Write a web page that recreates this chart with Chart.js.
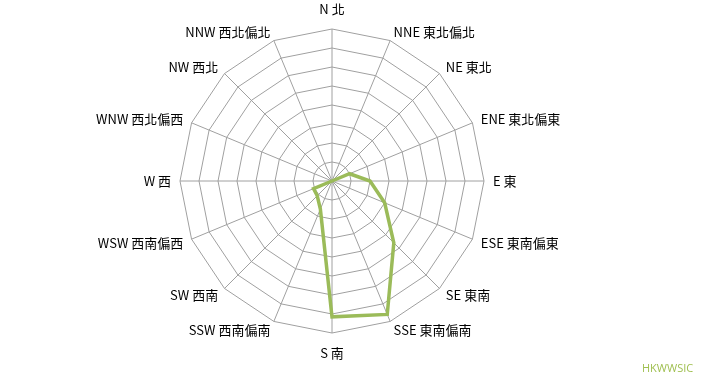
<!DOCTYPE html>
<html>
<head>
<meta charset="utf-8">
<script src="https://cdn.jsdelivr.net/npm/chart.js@4"></script>
<style>
  body { margin: 0; background: #fff; }
  #wrap { position: relative; width: 704px; height: 385px; }
  #mark { position: absolute; left: 642px; top: 360px; font: 11px 'Open Sans', sans-serif; color: #9fbf4f; }
</style>
</head>
<body>
<div id="wrap">
  <canvas id="chart1" width="704" height="385"></canvas>
  <div id="mark">HKWWSIC</div>
</div>
<script>
var directions = ['N 北', 'NNE 東北偏北', 'NE 東北', 'ENE 東北偏東', 'E 東', 'ESE 東南偏東', 'SE 東南', 'SSE 東南偏南',
                  'S 南', 'SSW 西南偏南', 'SW 西南', 'WSW 西南偏西', 'W 西', 'WNW 西北偏西', 'NW 西北', 'NNW 西北偏北'];
var values = [0, 0, 0, 1.0, 2.0, 3.0, 4.6, 7.6, 7.15, 1.6, 1.1, 1.05, 0, 0, 0, 0];
var scaleMax = 8;

var ctx = document.getElementById('chart1');
var chart = new Chart(ctx, {
    type: 'radar',
    data: {
        labels: directions,
        datasets: [{
            data: values,
            borderColor: '#9bbb59',
            borderWidth: 3.5,
            fill: false,
            pointRadius: 0,
            tension: 0
        }]
    },
    options: {
        responsive: false,
        animation: false,
        layout: { padding: { left: 60, right: 100, top: 9, bottom: 32 } },
        plugins: { legend: { display: false }, tooltip: { enabled: false } },
        scales: {
            r: {
                min: 0,
                max: scaleMax,
                ticks: { display: false, stepSize: 1 },
                grid: { color: '#a0a0a0', lineWidth: 1 },
                angleLines: { color: '#a0a0a0', lineWidth: 1 },
                pointLabels: {
                    color: '#000',
                    font: { family: "'Noto Sans CJK TC', 'Noto Sans', sans-serif", size: 13, lineHeight: 0 },
                    padding: function (c) {
                        return (c.index === 0 || c.index === 8) ? 20 : 9;
                    }
                }
            }
        }
    }
});
</script>
</body>
</html>
